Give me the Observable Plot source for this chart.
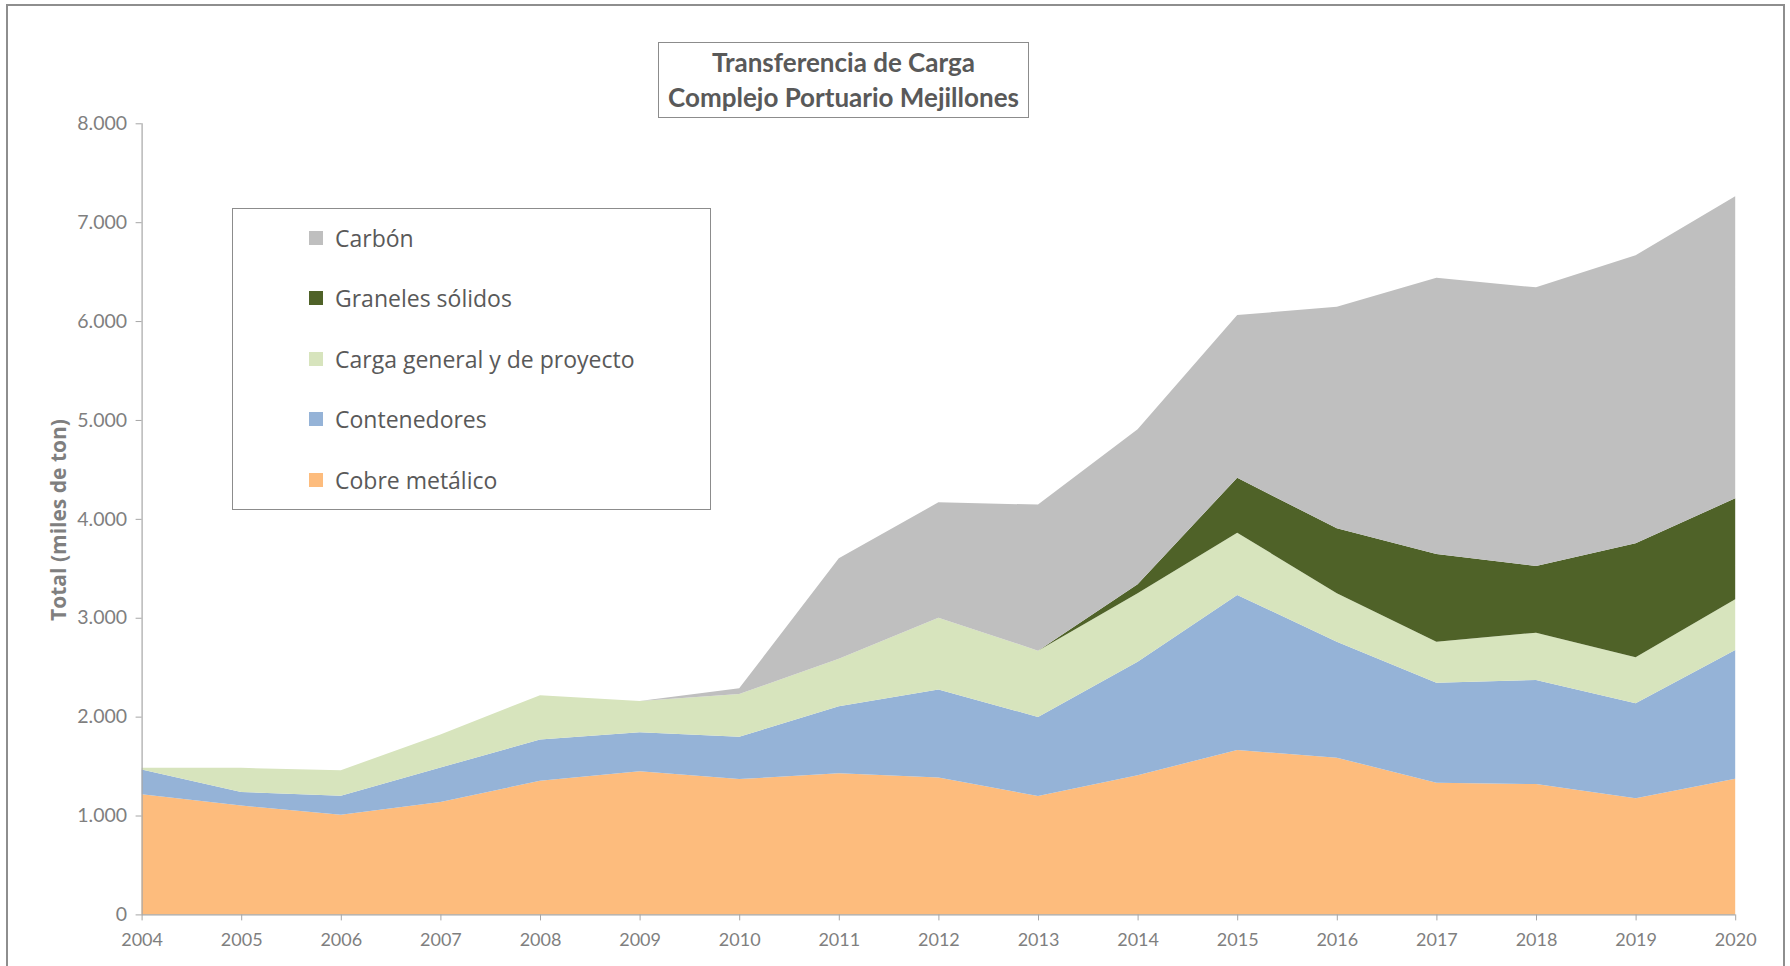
<!DOCTYPE html>
<html>
<head>
<meta charset="utf-8">
<script src="https://cdn.jsdelivr.net/npm/d3@7"></script>
<script src="https://cdn.jsdelivr.net/npm/@observablehq/plot@0.6"></script>
<style>
  html, body { margin: 0; padding: 0; background: #fff; }
  #wrap { position: relative; width: 1790px; height: 966px; overflow: hidden; }
  #outer { position: absolute; left: 6px; top: 4px; width: 1779px; height: 1000px; border: 2px solid #8e8e8e; box-sizing: border-box; pointer-events: none; }
  #title { position: absolute; left: 658px; top: 42px; width: 371px; height: 76px; border: 1px solid #8c8c8c; box-sizing: border-box; background: #fff;
           font-family: Lato, "Open Sans", sans-serif; font-weight: bold; font-size: 26px; color: #595959; text-align: center; line-height: 35px; padding-top: 2px; }
  #legend { position: absolute; left: 232px; top: 208px; width: 479px; height: 302px; border: 1px solid #8c8c8c; box-sizing: border-box; background: #fff; }
  .item { position: absolute; left: 76px; height: 30px; display: flex; align-items: center;
          font-family: "Open Sans", Lato, sans-serif; font-size: 23px; color: #595959; white-space: nowrap; }
  .sw { width: 14px; height: 14px; margin-right: 12px; }
  #ylab { position: absolute; left: 58px; top: 520px; transform: translate(-50%, -50%) rotate(-90deg); white-space: nowrap;
          font-family: "Open Sans", Lato, sans-serif; font-weight: bold; font-size: 21px; color: #7f7f7f; }
  #chart { position: absolute; left: 0; top: 0; }
</style>
</head>
<body>
<div id="wrap">
  <div id="chart"></div>
  <div id="outer"></div>
  <div id="title">Transferencia de Carga<br>Complejo Portuario Mejillones</div>
  <div id="legend"></div>
  <div id="ylab">Total (miles de ton)</div>
</div>
<script>
// ---- data (miles de ton) ----
const years = [2004, 2005, 2006, 2007, 2008, 2009, 2010, 2011, 2012, 2013, 2014, 2015, 2016, 2017, 2018, 2019, 2020];
const seriesNames = ["Cobre metálico", "Contenedores", "Carga general y de proyecto", "Graneles sólidos", "Carbón"];
const seriesColors = ["#FDBC7D", "#95B3D7", "#D7E4BD", "#4F6228", "#BFBFBF"];
const cobreMetalico   = [1214, 1100, 1007, 1137, 1351, 1448, 1368, 1428, 1385, 1197, 1408, 1662, 1585, 1331, 1318, 1174, 1371];
const contenedores    = [ 251,  137,  194,  348,  418,  395,  428,  676,  889,  800, 1147, 1568, 1173, 1012, 1052,  961, 1303];
const cargaGeneral    = [  17,  245,  257,  335,  447,  316,  432,  482,  727,  670,  692,  630,  489,  415,  479,  465,  512];
const granelesSolidos = [   0,    0,    0,    0,    0,    0,    0,    0,    0,    0,   91,  556,  657,  887,  674, 1153, 1022];
const carbon          = [   0,    0,    0,    0,    0,    0,   58, 1016, 1166, 1477, 1567, 1645, 2241, 2794, 2818, 2912, 3055];
const yTicks = [0, 1000, 2000, 3000, 4000, 5000, 6000, 7000, 8000];
const yDomain = [0, 8000];

const seriesValues = [cobreMetalico, contenedores, cargaGeneral, granelesSolidos, carbon];
const data = [];
seriesNames.forEach((name, i) => {
  years.forEach((yr, j) => data.push({ year: yr, serie: name, value: seriesValues[i][j] }));
});

const fmt = d3.formatLocale({ decimal: ",", thousands: ".", grouping: [3], currency: ["", ""] }).format(",d");

const chart = Plot.plot({
  width: 1790,
  height: 966,
  marginLeft: 141.6,
  marginRight: 54.8,
  marginTop: 123.3,
  marginBottom: 51.6,
  style: { fontFamily: "Lato, sans-serif", fontSize: "18px", color: "#7f7f7f", background: "transparent" },
  x: { type: "linear", domain: [years[0], years[years.length - 1]] },
  y: { domain: yDomain },
  color: { domain: seriesNames, range: seriesColors },
  marks: [
    Plot.areaY(data, { x: "year", y: "value", fill: "serie", order: seriesNames, curve: "linear" }),
    Plot.ruleY([yDomain[0]], { stroke: "#a6a6a6", strokeWidth: 1.2 }),
    Plot.ruleX([years[0]], { stroke: "#a6a6a6", strokeWidth: 1.2 }),
    Plot.axisY({ ticks: yTicks, tickFormat: fmt, tickSize: 6, tickPadding: 9, label: null, stroke: "#a6a6a6", fontSize: 19.5 }),
    Plot.axisX({ ticks: years, tickFormat: d => String(d), tickSize: 6, tickPadding: 12, label: null, stroke: "#a6a6a6" })
  ]
});
document.getElementById("chart").appendChild(chart);

// legend built from series arrays (top = last stacked)
const legend = document.getElementById("legend");
const order = seriesNames.map((n, i) => i).reverse();
order.forEach((i, k) => {
  const row = document.createElement("div");
  row.className = "item";
  row.style.top = (14 + 60.4 * k) + "px";
  const sw = document.createElement("div");
  sw.className = "sw";
  sw.style.background = seriesColors[i];
  const tx = document.createElement("span");
  tx.textContent = seriesNames[i];
  row.appendChild(sw);
  row.appendChild(tx);
  legend.appendChild(row);
});
</script>
</body>
</html>
